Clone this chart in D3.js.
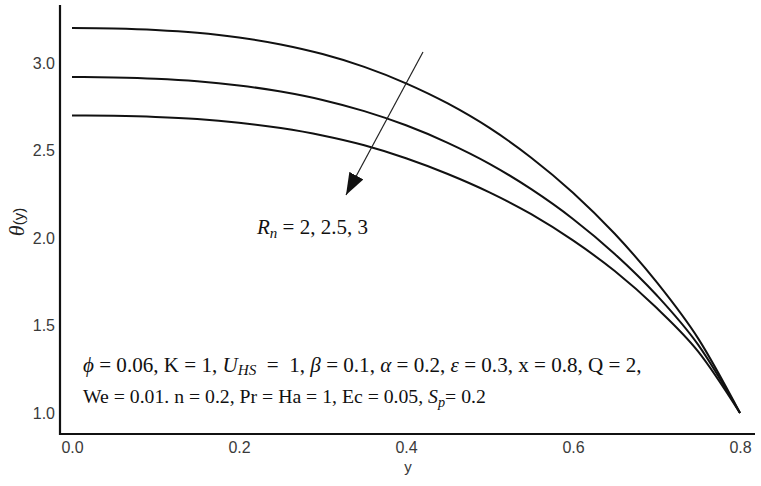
<!DOCTYPE html>
<html>
<head>
<meta charset="utf-8">
<script src="https://cdn.jsdelivr.net/npm/d3@7"></script>
<style>
  body { margin: 0; background: #fff; }
  svg { display: block; }
</style>
</head>
<body>
<svg id="chart" width="761" height="486"></svg>
<script>
var width = 761, height = 486;

// y positions (x axis variable)
var yPos = [0, 0.05, 0.1, 0.15, 0.2, 0.25, 0.3, 0.35, 0.4, 0.45, 0.5, 0.55, 0.6, 0.65, 0.7, 0.75, 0.8];
// theta(y) for R_n = 2, 2.5, 3 (top to bottom)
var thetaRn2 = [3.20, 3.197, 3.189, 3.173, 3.146, 3.106, 3.051, 2.978, 2.884, 2.769, 2.629, 2.459, 2.259, 2.024, 1.749, 1.425, 1.0];
var thetaRn25 = [2.92, 2.917, 2.910, 2.896, 2.872, 2.837, 2.789, 2.725, 2.644, 2.544, 2.424, 2.279, 2.109, 1.909, 1.674, 1.389, 1.0];
var thetaRn3 = [2.70, 2.698, 2.692, 2.680, 2.659, 2.628, 2.586, 2.530, 2.456, 2.366, 2.261, 2.136, 1.986, 1.811, 1.601, 1.351, 1.0];
var xTicks = [0, 0.2, 0.4, 0.6, 0.8];
var yTicks = [1.0, 1.5, 2.0, 2.5, 3.0];

var svg = d3.select("#chart");

var x = d3.scaleLinear().domain([0, 0.8]).range([72, 740]);
var y = d3.scaleLinear().domain([1, 3]).range([413, 63]);

var tickFont = "Liberation Sans, Arial, sans-serif";
var serif = "Liberation Serif, Times New Roman, serif";

// axes (no tick marks, only labels)
var xAxis = d3.axisBottom(x).tickValues(xTicks).tickSize(0).tickPadding(8)
    .tickFormat(d3.format(".1f"));
var yAxis = d3.axisLeft(y).tickValues(yTicks).tickSize(0).tickPadding(5)
    .tickFormat(d3.format(".1f"));

var gx = svg.append("g").attr("transform", "translate(0,434)").call(xAxis);
gx.select(".domain").remove();
gx.selectAll("text").attr("font-size", 16).attr("font-family", tickFont).attr("fill", "#3a3a3a");

var gy = svg.append("g").attr("transform", "translate(60,0)").call(yAxis);
gy.select(".domain").remove();
gy.selectAll("text").attr("font-size", 16).attr("font-family", tickFont).attr("fill", "#3a3a3a");

// axis lines
svg.append("line").attr("x1", 60).attr("x2", 60).attr("y1", 5).attr("y2", 435)
    .attr("stroke", "#111").attr("stroke-width", 2.2);
svg.append("line").attr("x1", 59).attr("x2", 755).attr("y1", 434).attr("y2", 434)
    .attr("stroke", "#111").attr("stroke-width", 2.2);

// curves
var line = d3.line()
    .x(function (d) { return x(d[0]); })
    .y(function (d) { return y(d[1]); })
    .curve(d3.curveMonotoneX);

[thetaRn2, thetaRn25, thetaRn3].forEach(function (series) {
    var pts = yPos.map(function (v, i) { return [v, series[i]]; });
    svg.append("path")
        .attr("d", line(pts))
        .attr("fill", "none")
        .attr("stroke", "#111")
        .attr("stroke-width", 2);
});

// arrow
svg.append("defs").append("marker")
    .attr("id", "head")
    .attr("viewBox", "0 0 22 16")
    .attr("refX", 22).attr("refY", 8)
    .attr("markerWidth", 22).attr("markerHeight", 16)
    .attr("markerUnits", "userSpaceOnUse")
    .attr("orient", "auto")
    .append("path").attr("d", "M0,0 L22,8 L0,16 Z").attr("fill", "#111");

svg.append("line")
    .attr("x1", 423).attr("y1", 52).attr("x2", 346).attr("y2", 195)
    .attr("stroke", "#222").attr("stroke-width", 1.2)
    .attr("marker-end", "url(#head)");

// R_n label
var rn = svg.append("text").attr("x", 257).attr("y", 234)
    .attr("font-family", serif).attr("font-size", 21).attr("fill", "#111");
rn.append("tspan").attr("font-style", "italic").text("R");
rn.append("tspan").attr("font-style", "italic").attr("font-size", 15).attr("dy", 4).text("n");
rn.append("tspan").attr("dy", -4).text(" = 2, 2.5, 3");

// y axis title
var yt = svg.append("text")
    .attr("transform", "translate(24,222) rotate(-90)")
    .attr("text-anchor", "middle")
    .attr("fill", "#222");
yt.append("tspan").attr("font-family", serif).attr("font-style", "italic").attr("font-size", 22).text("θ");
yt.append("tspan").attr("font-family", tickFont).attr("font-size", 15).text("(y)");

// x axis title
svg.append("text").attr("x", 408).attr("y", 472).attr("text-anchor", "middle")
    .attr("font-family", tickFont).attr("font-size", 15).attr("fill", "#3a3a3a").text("y");

// parameter annotation
function fitText(sel, target) {
    var w = sel.node().getComputedTextLength();
    var fs = parseFloat(sel.attr("font-size"));
    sel.attr("font-size", fs * target / w);
}

var p1 = svg.append("text").attr("x", 83).attr("y", 372)
    .style("white-space", "pre")
    .attr("font-family", serif).attr("font-size", 16).attr("fill", "#111");
p1.append("tspan").attr("font-style", "italic").text("ϕ");
p1.append("tspan").text(" = 0.06, K = 1, ");
p1.append("tspan").attr("font-style", "italic").text("U");
p1.append("tspan").attr("font-style", "italic").attr("font-size", "0.72em").attr("dy", 3).text("HS");
p1.append("tspan").attr("dy", -3).text("  =  1, ");
p1.append("tspan").attr("font-style", "italic").text("β");
p1.append("tspan").text(" = 0.1, ");
p1.append("tspan").attr("font-style", "italic").text("α");
p1.append("tspan").text(" = 0.2, ");
p1.append("tspan").attr("font-style", "italic").text("ε");
p1.append("tspan").text(" = 0.3, x = 0.8, Q = 2,");
fitText(p1, 559);

var p2 = svg.append("text").attr("x", 83).attr("y", 403)
    .attr("font-family", serif).attr("font-size", 16).attr("fill", "#111");
p2.append("tspan").text("We = 0.01. n = 0.2, Pr = Ha = 1, Ec = 0.05, ");
p2.append("tspan").attr("font-style", "italic").text("S");
p2.append("tspan").attr("font-style", "italic").attr("font-size", "0.72em").attr("dy", 4).text("p");
p2.append("tspan").attr("dy", -4).text("= 0.2");
fitText(p2, 403);
</script>
</body>
</html>
